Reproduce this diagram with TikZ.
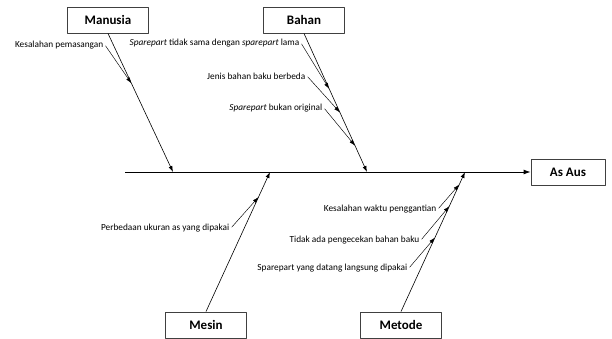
\documentclass[tikz,border=0pt]{standalone}
\usepackage{fontspec}
\setmainfont{Carlito}
\usetikzlibrary{calc,arrows.meta}
\begin{document}
\begin{tikzpicture}[>=latex,x=1pt,y=-1pt,line join=round,
  cause/.style={draw=black!75,line width=.9pt,minimum width=81pt,minimum height=26pt,inner sep=0pt,font=\fontsize{13}{15}\selectfont\bfseries},
  sub/.style={anchor=east,inner sep=1.5pt,font=\fontsize{9.3}{10}\selectfont},
  bone/.style={-{Latex[length=6pt,width=4pt]},line width=.6pt},
  twig/.style={-{Latex[length=6pt,width=4pt]},line width=.45pt,shorten <=1pt}]
\useasboundingbox (0,0) rectangle (612,338);
% boxes
\node[cause] (manusia) at (108,20) {Manusia};
\node[cause] (bahan) at (304,20) {Bahan};
\node[cause] (mesin) at (206,325) {Mesin};
\node[cause] (metode) at (401,325) {Metode};
\node[cause,minimum width=74pt] (asaus) at (568,172) {As Aus};
% spine
\coordinate (tail) at (125,172);
\coordinate (m1) at (173,172);
\coordinate (b1) at (367,172);
\coordinate (e1) at (270,172);
\coordinate (t1) at (465,172);
\draw[-{Latex[length=7pt,width=5pt]},line width=.9pt] (tail)--(asaus.west);
\draw[bone] (manusia.south)--(m1);
\draw[bone] (bahan.south)--(b1);
\draw[bone] (mesin.north)--(e1);
\draw[bone] (metode.north)--(t1);
% sub causes
\node[sub] (km) at (105,45) {Kesalahan pemasangan};
\node[sub] (sl) at (301,43) {\textit{Sparepart} tidak sama dengan \textit{sparepart} lama};
\node[sub] (jb) at (307,76) {Jenis bahan baku berbeda};
\node[sub] (so) at (324,108) {\textit{Sparepart} bukan original};
\node[sub] (pu) at (231,228) {Perbedaan ukuran as yang dipakai};
\node[sub] (kw) at (438,209) {Kesalahan waktu penggantian};
\node[sub] (tp) at (421,240) {Tidak ada pengecekan bahan baku};
\node[sub] (sd) at (409,268) {Sparepart yang datang langsung dipakai};
\draw[twig] (km.east)--($(manusia.south)!.36!(m1)$);
\draw[twig] (sl.east)--($(bahan.south)!.40!(b1)$);
\draw[twig] (jb.east)--($(bahan.south)!.57!(b1)$);
\draw[twig] (so.east)--($(bahan.south)!.81!(b1)$);
\draw[twig] (pu.east)--($(mesin.north)!.82!(e1)$);
\draw[twig] (kw.east)--($(metode.north)!.91!(t1)$);
\draw[twig] (tp.east)--($(metode.north)!.755!(t1)$);
\draw[twig] (sd.east)--($(metode.north)!.53!(t1)$);
\end{tikzpicture}
\end{document}
